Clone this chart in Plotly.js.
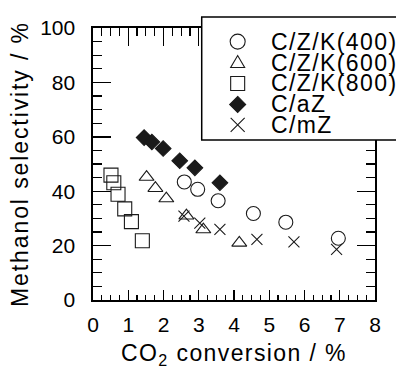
<!DOCTYPE html>
<html><head><meta charset="utf-8">
<script src="https://cdn.plot.ly/plotly-3.0.1.min.js"></script>
<style>
html,body{margin:0;padding:0;background:#fff;}
#chart{width:396px;height:373px;}
.xtitle,.annotation-text{letter-spacing:1.4px;}
.ytitle{letter-spacing:1.9px;}
</style></head><body><div id="chart"></div>
<script>
// ---- data ----
const seriesNames = ['C/Z/K(400)', 'C/Z/K(600)', 'C/Z/K(800)', 'C/aZ', 'C/mZ'];
const czk400X = [2.59, 2.97, 3.55, 4.55, 5.47, 6.96];
const czk400Y = [43.4, 40.7, 36.5, 31.8, 28.6, 22.7];
const czk600X = [1.52, 1.77, 2.08, 2.65, 3.13, 4.15];
const czk600Y = [45.2, 41.1, 37.3, 31.0, 25.9, 21.0];
const czk800X = [0.51, 0.59, 0.71, 0.90, 1.09, 1.40];
const czk800Y = [45.9, 43.1, 38.9, 33.5, 28.8, 21.8];
const caZX = [1.45, 1.67, 1.99, 2.46, 2.89, 3.60];
const caZY = [59.7, 58.1, 55.7, 51.2, 48.6, 43.1];
const cmZX = [2.58, 3.03, 3.60, 4.65, 5.70, 6.91];
const cmZY = [30.8, 28.3, 26.0, 22.3, 21.4, 18.6];
const xTickVals = [0, 1, 2, 3, 4, 5, 6, 7, 8];
const yTickVals = [0, 20, 40, 60, 80, 100];
const xTitle = 'CO<sub>2</sub> conversion / %';
const yTitle = 'Methanol selectivity / %';

const ink = '#1a1a1a';
const mk = (sym, size) => ({
  symbol: sym, size: size, color: ink,
  line: {color: ink, width: 1.1}
});
const traces = [
  {x: czk400X, y: czk400Y, name: seriesNames[0], mode: 'markers', marker: mk('circle-open', 14)},
  {x: czk600X, y: czk600Y, name: seriesNames[1], mode: 'markers', marker: mk('triangle-up-open', 13)},
  {x: czk800X, y: czk800Y, name: seriesNames[2], mode: 'markers', marker: mk('square-open', 14)},
  {x: caZX, y: caZY, name: seriesNames[3], mode: 'markers', marker: mk('diamond', 12)},
  {x: cmZX, y: cmZY, name: seriesNames[4], mode: 'markers', marker: mk('x-thin-open', 11)},
  {x: [], y: [], xaxis: 'x2', yaxis: 'y', showlegend: false, hoverinfo: 'skip'}
];

const tickFont = {family: 'Liberation Sans, Arial, sans-serif', size: 21, color: '#000'};
const titleFont = {family: 'Liberation Sans, Arial, sans-serif', size: 23, color: '#000'};

// legend (drawn manually, paper coordinates)
const L = {left: 0.3855, right: 1.1, top: 1.040, bottom: 0.588};
const rowY = [0.950, 0.873, 0.796, 0.719, 0.644];
const symX = 0.513, txtX = 0.624;
const symPaths = [
  null,
  'M-7,-5 L7,-5 L0,7 Z',
  null,
  'M0,8 L8,0 L0,-8 L-8,0 Z',
  'M-7,-7 L7,7 M-7,7 L-0,0 L7,-7'
];
const shapes = [{type: 'rect', xref: 'paper', yref: 'paper', x0: L.left, x1: L.right, y0: L.bottom, y1: L.top,
  fillcolor: '#fff', line: {color: '#000', width: 1.5}, layer: 'above'}];
const base = {xref: 'paper', yref: 'paper', xsizemode: 'pixel', ysizemode: 'pixel', layer: 'above',
  line: {color: ink, width: 1.1}};
seriesNames.forEach((n, i) => {
  const s = Object.assign({}, base, {xanchor: symX, yanchor: rowY[i]});
  if (i === 0) Object.assign(s, {type: 'circle', x0: -7.5, x1: 7.5, y0: -7.5, y1: 7.5});
  else if (i === 2) Object.assign(s, {type: 'rect', x0: -7, x1: 7, y0: -7, y1: 7});
  else Object.assign(s, {type: 'path', path: symPaths[i]});
  if (i === 3) s.fillcolor = ink;
  shapes.push(s);
});
const annotations = seriesNames.map((n, i) => ({
  xref: 'paper', yref: 'paper', x: txtX, y: rowY[i], xanchor: 'left', yanchor: 'middle',
  text: n, showarrow: false, font: titleFont
}));

const axisCommon = {
  showline: true, linecolor: '#000', linewidth: 1.6, showgrid: false, zeroline: false,
  ticks: 'inside', tickcolor: '#000', tickwidth: 1.4, tickfont: tickFont
};
const layout = {
  width: 396, height: 373,
  margin: {l: 93, r: 21, t: 28, b: 73, autoexpand: false},
  paper_bgcolor: '#fff', plot_bgcolor: '#fff',
  showlegend: false,
  xaxis: Object.assign({}, axisCommon, {
    range: [0, 8], tickvals: xTickVals, ticklen: 10, mirror: true,
    minor: {dtick: 0.25, ticks: 'inside', ticklen: 5, tickcolor: '#000', tickwidth: 1.2},
    ticklabelstandoff: 5,
    title: {text: xTitle, font: titleFont, standoff: 10}
  }),
  xaxis2: {
    overlaying: 'x', side: 'top', range: [0, 8], tickvals: xTickVals, showticklabels: false,
    showline: false, showgrid: false, zeroline: false, ticks: 'inside', ticklen: 18,
    tickcolor: '#000', tickwidth: 1.4,
    minor: {dtick: 0.25, ticks: 'inside', ticklen: 8, tickcolor: '#000', tickwidth: 1.2}
  },
  yaxis: Object.assign({}, axisCommon, {
    range: [0, 100], tickvals: yTickVals, ticklen: 18, mirror: 'ticks',
    minor: {dtick: 5, ticks: 'inside', ticklen: 9, tickcolor: '#000', tickwidth: 1.2},
    ticklabelstandoff: 12,
    title: {text: yTitle, font: titleFont, standoff: 5}
  }),
  shapes: shapes,
  annotations: annotations
};
Plotly.newPlot('chart', traces, layout, {displayModeBar: false, staticPlot: true});
</script></body></html>
